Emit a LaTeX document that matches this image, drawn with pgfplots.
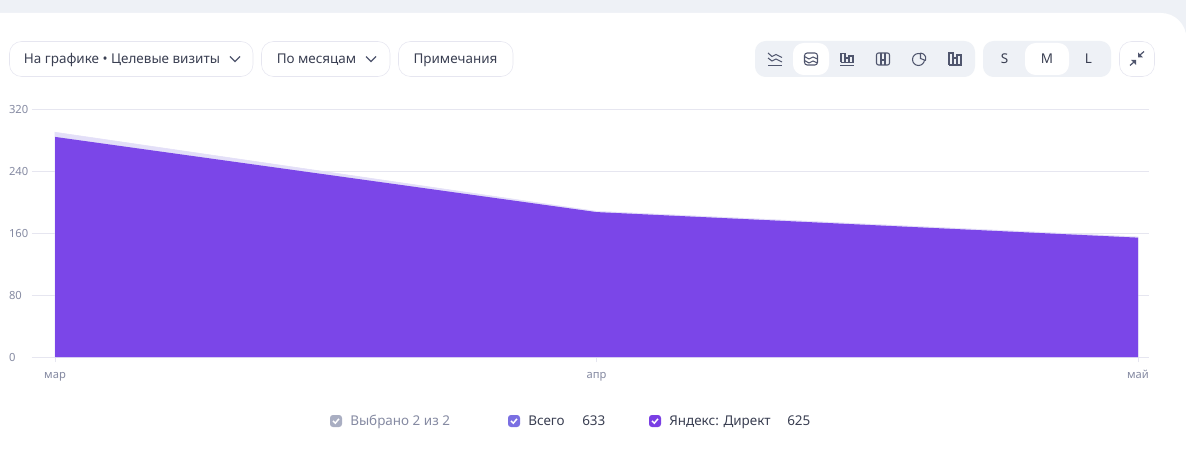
\documentclass[border=0pt]{standalone}
\usepackage{fontspec}
\setmainfont{Noto Sans}
\usepackage{pgfplots}
\pgfplotsset{compat=1.18}
\definecolor{bandc}{HTML}{EEF1F6}
\definecolor{linec}{HTML}{E6E6F0}
\definecolor{direct}{HTML}{7B46E8}
\definecolor{total}{HTML}{E3DFF8}
\definecolor{tickc}{HTML}{858AA2}
\definecolor{textc}{HTML}{3A3F52}
\definecolor{iconc}{HTML}{50566E}
\definecolor{chkg}{HTML}{A9AEC2}
\definecolor{chkb}{HTML}{7A6FE2}
\definecolor{chkp}{HTML}{7A3FE4}
\newcommand{\ui}[3]{\node[anchor=base west,inner sep=0pt,text=#3,font=\fontsize{10.1}{12}\selectfont] at (#1,425.5) {#2};}
\newcommand{\btn}[3]{\node[anchor=base,inner sep=0pt,text=textc,font=\fontsize{10.1}{12}\selectfont] at (#1,#2) {#3};}
\newcommand{\chk}[2]{\fill[#2,rounded corners=2.2pt] (#1,415) rectangle ++(12,12);
  \draw[white,line width=1.1pt] (#1+3,421) -- (#1+5.3,423.2) -- (#1+9,418.8);}
\begin{document}
\begin{tikzpicture}[x=0.75pt,y=-0.75pt]
\useasboundingbox (0,0) rectangle (1186,449);
\fill[bandc] (0,0) rectangle (1186,449);
\fill[white] (0,449) -- (0,13) -- (1161,13) arc[start angle=90,end angle=0,x radius=19pt,y radius=19pt] -- (1186,449) -- cycle;
% buttons
\draw[linec,rounded corners=9pt] (9.5,41.5) rectangle (253,76.5);
\draw[linec,rounded corners=9pt] (261.5,41.5) rectangle (390,76.5);
\draw[linec,rounded corners=9pt] (398.5,41.5) rectangle (513,76.5);
\btn{122}{64}{На графике • Целевые визиты}
\btn{316.5}{64}{По месяцам}
\btn{455.5}{64}{Примечания}
\draw[iconc,line width=0.9pt] (230,56.5) -- (235,61.5) -- (240,56.5);
\draw[iconc,line width=0.9pt] (366,56.5) -- (371,61.5) -- (376,56.5);
% icon pill
\fill[bandc,rounded corners=8pt] (755,41) rectangle (975,77);
\fill[white,rounded corners=8pt] (793,43) rectangle (829,75);
\fill[bandc,rounded corners=8pt] (983,41) rectangle (1111,77);
\fill[white,rounded corners=8pt] (1025,43) rectangle (1069,75);
\draw[linec,rounded corners=9pt] (1119.5,41.5) rectangle (1154.5,76.5);
\btn{1004.5}{64}{S}
\btn{1047}{64}{M}
\btn{1088.5}{64}{L}
\begin{scope}[iconc,line width=0.8pt]
 \draw (768,53) -- (772,56.5) -- (776,54.5) -- (782,57.5);
 \draw (768,58) -- (772,61) -- (776,59) -- (782,62);
 \draw (768,65.5) -- (782,65.5);
 \draw[rounded corners=2pt] (804.5,53) rectangle (817.5,65);
 \draw (804.5,56.5) -- (809,59) -- (813,57) -- (817.5,59);
 \draw (804.5,60.5) -- (809,63) -- (813,61) -- (817.5,63);
 \draw (841,62.5) -- (841,53.5) -- (845,53.5) -- (845,62.5) (845,58) -- (849,58) -- (849,62.5) -- (849,56) -- (853,56) -- (853,62.5) -- (841,62.5);
 \draw (840,65.5) -- (854,65.5);
 \draw[rounded corners=1.5pt] (876.5,53) rectangle (889.5,65);
 \draw (881,53) -- (881,65) (885,53) -- (885,65) (881,60) -- (885,60);
 \draw (918.5,59.5) circle[radius=6];
 \fill[bandc] (920,52) -- (926,52) -- (926,60.5) -- (920,58.5) -- cycle;
 \draw (920.5,53) -- (920.5,58.5) -- (925.7,60.5);
 \draw (920.5,53) -- (923.5,54) -- (925.5,56.5) -- (925.7,60.5);
 \draw (949,65) -- (949,53) -- (953,53) -- (953,65) (953,58) -- (957,58) -- (957,65) (957,65) -- (957,55) -- (961,55) -- (961,65) -- (949,65);
 \fill (1138,57.3) -- (1138,52.5) -- (1142.8,57.3) -- cycle;
 \draw[line width=0.9pt] (1140,55) -- (1144,51.5);
 \fill (1136,60) -- (1131.2,60) -- (1136,64.8) -- cycle;
 \draw[line width=0.9pt] (1134,62) -- (1130,65.5);
\end{scope}
\begin{axis}[
  at={(24pt,-267.75pt)}, anchor=south west,
  scale only axis, width=837.75pt, height=186pt,
  xmin=-0.0425, xmax=2.0203, ymin=0, ymax=320,
  axis line style={draw=none},
  xtick={0,1,2}, xticklabels={мар,апр,май},
  ytick={0,80,160,240,320},
  xtick pos=lower,
  ymajorgrids, grid style={linec,line width=0.75pt},
  tick align=outside,
  major tick length=3.75pt,
  x tick style={linec,line width=0.75pt},
  y tick style={draw=none},
  tick label style={text=tickc,font=\fontsize{8.4}{10}\selectfont},
  /pgf/number format/assume math mode=true,
  xticklabel style={text height=6.5pt,text depth=1.5pt,yshift=-2pt},
  yticklabel style={anchor=west,xshift=-17pt},
  axis on top=false,
  clip=false,
]
\addplot[fill=total,draw=total,line width=0.4pt] coordinates {(0,290) (1,188) (2,155)} \closedcycle;
\addplot[fill=direct,draw=none] coordinates {(0,284) (1,187) (2,154)} \closedcycle;
\end{axis}
% legend
\chk{330}{chkg}
\ui{350}{Выбрано 2 из 2}{tickc}
\chk{508}{chkb}
\ui{528}{Всего}{textc}
\ui{582}{633}{textc}
\chk{649}{chkp}
\ui{669}{Яндекс: Директ}{textc}
\ui{787}{625}{textc}
\end{tikzpicture}
\end{document}
